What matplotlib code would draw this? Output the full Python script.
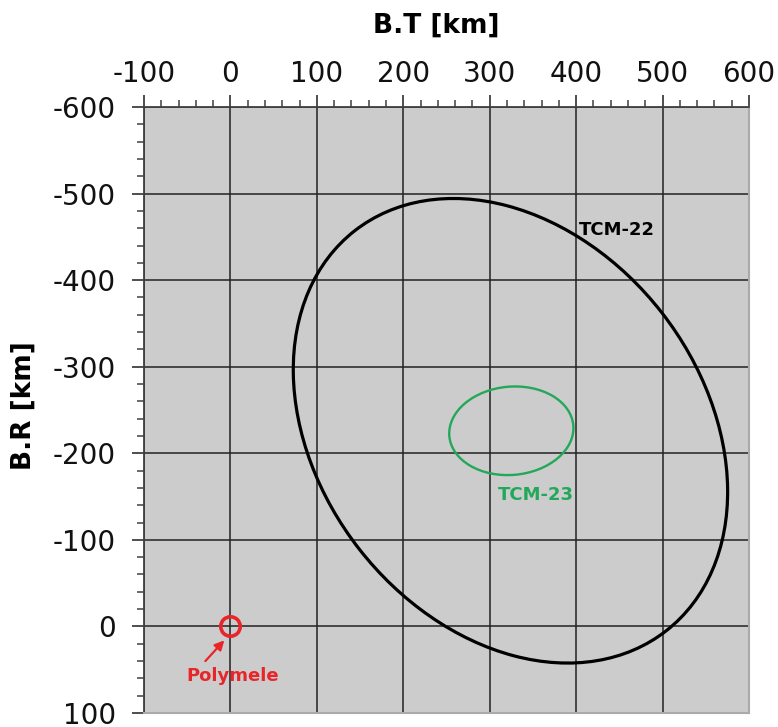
import matplotlib.pyplot as plt
from matplotlib.patches import Ellipse
from matplotlib.ticker import MultipleLocator

# B-plane dispersion ellipses (km)
names = ["TCM-22", "TCM-23"]
center_bt = [324, 325]
center_br = [-226, -226]
semi_major = [293, 72]
semi_minor = [222, 51]
tilt_deg = [52, -5]

# target body
target_name = "Polymele"
target_bt = 0
target_br = 0

x_ticks = [-100, 0, 100, 200, 300, 400, 500, 600]
y_ticks = [-600, -500, -400, -300, -200, -100, 0, 100]

line_colors = ["black", "#23a85a"]
red = "#e8262a"

plt.rcParams["axes.unicode_minus"] = False


def draw_ellipses(ax):
    for i in range(len(names)):
        e = Ellipse((center_bt[i], center_br[i]), 2 * semi_major[i], 2 * semi_minor[i],
                    angle=tilt_deg[i], fill=False, edgecolor=line_colors[i],
                    lw=2.3 if i == 0 else 1.7, zorder=3)
        ax.add_patch(e)


def main():
    fig = plt.figure(figsize=(7.78, 7.27), dpi=100)
    ax = fig.add_axes([144 / 778, 14 / 727, 605 / 778, 606 / 727])
    ax.set_facecolor("#cccccc")

    ax.set_xlim(x_ticks[0], x_ticks[-1])
    ax.set_ylim(y_ticks[-1], y_ticks[0])  # inverted, -600 on top

    ax.xaxis.tick_top()
    ax.xaxis.set_label_position("top")
    ax.set_xticks(x_ticks)
    ax.set_yticks(y_ticks)
    ax.xaxis.set_minor_locator(MultipleLocator(20))
    ax.yaxis.set_minor_locator(MultipleLocator(20))

    ax.tick_params(which="major", length=9, width=1.3, color="#404040",
                   labelsize=20, labelcolor="#111111")
    ax.tick_params(which="minor", length=5, width=1.1, color="#404040")
    ax.tick_params(axis="x", which="major", pad=5)
    ax.tick_params(axis="y", which="major", pad=11)

    ax.grid(True, which="major", color="#222222", lw=1.1, zorder=1)
    ax.set_axisbelow(True)

    for side in ["top", "left"]:
        ax.spines[side].set_color("#404040")
        ax.spines[side].set_linewidth(1.3)
    for side in ["bottom", "right"]:
        ax.spines[side].set_color("#aaaaaa")
        ax.spines[side].set_linewidth(1.5)

    ax.set_xlabel("B.T [km]", fontsize=19, fontweight="bold")
    ax.set_ylabel("B.R [km]", fontsize=19, fontweight="bold")
    ax.xaxis.set_label_coords(0.483, 1.122)
    ax.yaxis.set_label_coords(-0.178, 0.508)

    draw_ellipses(ax)

    ax.text(403, -458, names[0], fontsize=13, fontweight="bold",
            color="black", ha="left", va="center", zorder=4)
    ax.text(353, -152, names[1], fontsize=13, fontweight="bold",
            color=line_colors[1], ha="center", va="center", zorder=4)

    ax.plot([target_bt], [target_br], "o", ms=14, mfc="none", mec=red, mew=2.6, zorder=4)
    ax.annotate("", xy=(target_bt - 7, target_br + 16), xytext=(target_bt - 29, target_br + 40),
                arrowprops=dict(arrowstyle="-|>", color=red, lw=1.6, mutation_scale=14,
                                shrinkA=0, shrinkB=0),
                zorder=4)
    ax.text(target_bt + 3, target_br + 57, target_name, fontsize=13, fontweight="bold",
            color=red, ha="center", va="center", zorder=4)

    fig.savefig("out.png", dpi=100)


if __name__ == "__main__":
    main()
